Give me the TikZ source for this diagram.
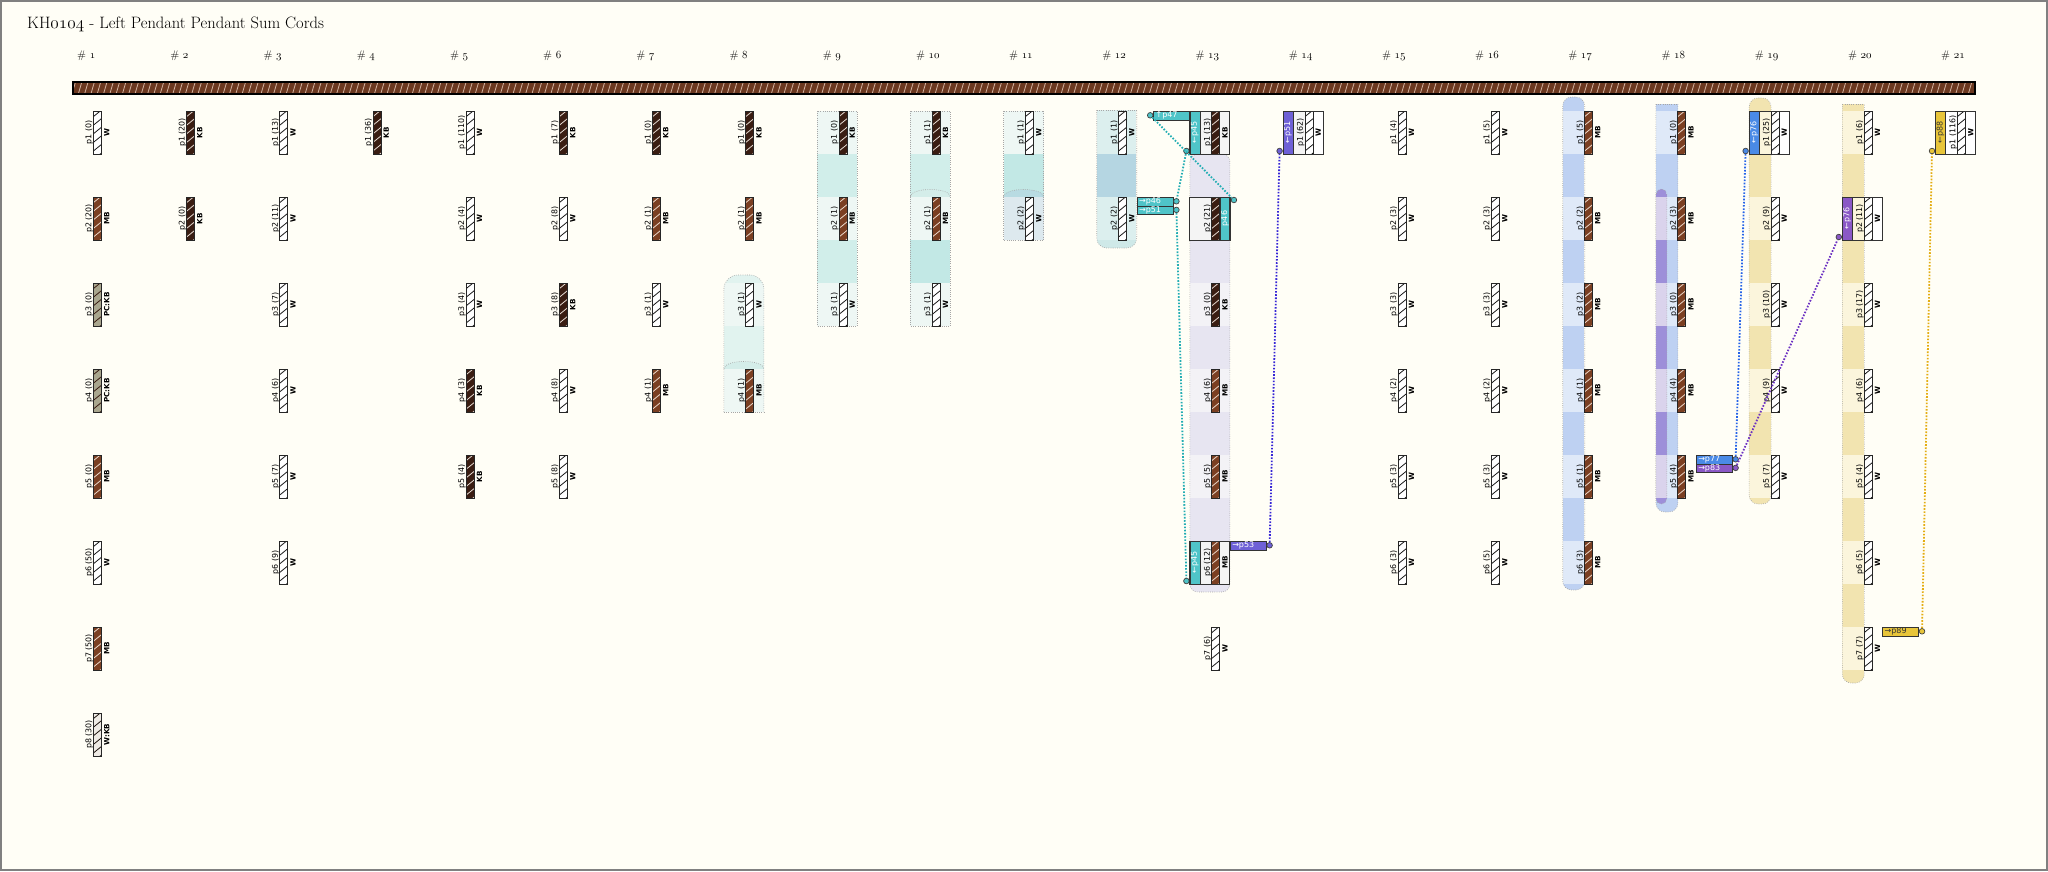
\documentclass[tikz,border=0pt]{standalone}
\usepackage{fontspec}
\newfontfamily\dv{DejaVu Sans}
\newcommand\osn[1]{{\usefont{OML}{lmm}{m}{it}#1}}
\definecolor{bgc}{HTML}{FFFEF6}
\definecolor{framec}{HTML}{808080}
\definecolor{mcf}{HTML}{6B3820}
\definecolor{mch}{HTML}{D2B2A0}
\definecolor{cfW}{HTML}{FFFFFF}
\definecolor{chW}{HTML}{1A1A1A}
\definecolor{cfKB}{HTML}{3A1D12}
\definecolor{chKB}{HTML}{E4DAD2}
\definecolor{cfMB}{HTML}{7B3F22}
\definecolor{chMB}{HTML}{EBD8CA}
\definecolor{cfPCKB}{HTML}{A9A68E}
\definecolor{chPCKB}{HTML}{3A1D12}
\definecolor{cfWKB}{HTML}{EEEAE4}
\definecolor{chWKB}{HTML}{1E140E}
\definecolor{tL}{HTML}{EEF7F4}
\definecolor{tA}{HTML}{E1F3EF}
\definecolor{tB}{HTML}{D4EDE9}
\definecolor{tC}{HTML}{D1EEEA}
\definecolor{tD}{HTML}{C2E8E5}
\definecolor{tE}{HTML}{B5D6E2}
\definecolor{tF}{HTML}{DDE9EE}
\definecolor{tG}{HTML}{B8DBE2}
\definecolor{tH}{HTML}{DCEFEE}
\definecolor{tI}{HTML}{CFE9E8}
\definecolor{lavL}{HTML}{F3F2F6}
\definecolor{lavG}{HTML}{E7E5F1}
\definecolor{bL}{HTML}{DFE9F8}
\definecolor{bG}{HTML}{BED1F2}
\definecolor{pL}{HTML}{DAD3EC}
\definecolor{pG}{HTML}{9D8FD9}
\definecolor{yL}{HTML}{FBF5DC}
\definecolor{yG}{HTML}{F2E4B0}
\definecolor{boxg}{HTML}{F4F4F4}
\definecolor{cteal}{HTML}{4FC4C8}
\definecolor{cindigo}{HTML}{6E60D6}
\definecolor{cblue}{HTML}{4A8AE6}
\definecolor{cpurple}{HTML}{8A58C6}
\definecolor{cyellow}{HTML}{E8C53A}
\definecolor{lteal}{HTML}{22ADB3}
\definecolor{lindigo}{HTML}{3524D6}
\definecolor{lblue}{HTML}{2563E8}
\definecolor{lpurple}{HTML}{6B2FC2}
\definecolor{lyellow}{HTML}{E4AD12}
\tikzset{
  lbl/.style={rotate=90, inner sep=0pt, font=\dv\fontsize{7.9}{8}\selectfont, text=black},
  typ/.style={rotate=90, inner sep=0pt, font=\dv\bfseries\fontsize{7.2}{8}\selectfont, text=black},
  hdr/.style={inner sep=0pt, anchor=base west, font=\fontsize{11}{12}\selectfont, text=black},
  tagbox/.style={draw=black!80, line width=0.7pt, minimum width=36pt, minimum height=8.6pt, inner ysep=0pt, inner xsep=2pt, text width=32pt, align=left, anchor=north west, font=\dv\fontsize{8}{8}\selectfont},
  stripbox/.style={draw=black!80, line width=0.7pt, rotate=90, minimum width=43pt, minimum height=10pt, inner sep=0pt, font=\dv\fontsize{8}{8}\selectfont},
  cdot/.style={circle, draw=black!75, line width=0.7pt, minimum size=5.6pt, inner sep=0pt},
  link/.style={line width=1.8pt, dash pattern=on 1.6pt off 1.6pt},
  bandedge/.style={draw=black!35, line width=0.6pt, dash pattern=on 0.8pt off 1.4pt},
}
% col, row, count, type key, type text
\newcommand\Pcord[5]{%
  \pgfmathsetmacro\cx{97.5+93.2*(#1-1)}%
  \pgfmathsetmacro\cy{111+86*(#2-1)}%
  \begin{scope}
    \clip (\cx-4,\cy) rectangle (\cx+4,\cy+43);
    \fill[cf#4] (\cx-4,\cy) rectangle (\cx+4,\cy+43);
    \foreach \k in {0,...,5}{\draw[ch#4, line width=0.8pt] (\cx-4,\cy+8.6*\k+5.5) -- (\cx+4,\cy+8.6*\k-1);}
  \end{scope}
  \draw[black!85, line width=0.9pt] (\cx-4,\cy) rectangle (\cx+4,\cy+43);
  \node[lbl, anchor=south] (c#1p#2) at (\cx-4.3,\cy+21.5) {p#2 (#3)};
  \node[typ, anchor=north] (c#1t#2) at (\cx+6.3,\cy+21.5) {#5};
}
\newcommand\Pbox[4]{%
  \pgfmathsetmacro\cx{97.5+93.2*(#1-1)}%
  \pgfmathsetmacro\cy{111+86*(#2-1)}%
  \fill[#3] (\cx-26,\cy) rectangle (\cx-4,\cy+43);
  \fill[#4] (\cx-4,\cy) rectangle (\cx+14,\cy+43);
}
\newcommand\Pedge[2]{%
  \pgfmathsetmacro\cx{97.5+93.2*(#1-1)}%
  \pgfmathsetmacro\cy{111+86*(#2-1)}%
  \draw[black!80, line width=0.9pt] (\cx-26,\cy) rectangle (\cx+14,\cy+43);
}
% col,row,fill,textcolor,text,name
\newcommand\Plstrip[6]{%
  \pgfmathsetmacro\cx{97.5+93.2*(#1-1)}%
  \pgfmathsetmacro\cy{111+86*(#2-1)}%
  \node[stripbox, fill=#3, text=#4] (#6) at (\cx-21,\cy+21.5) {#5};
  \node[cdot, fill=#3] (#6d) at (\cx-29.5,\cy+40) {};
}
\newcommand\Prstrip[6]{%
  \pgfmathsetmacro\cx{97.5+93.2*(#1-1)}%
  \pgfmathsetmacro\cy{111+86*(#2-1)}%
  \node[stripbox, fill=#3, text=#4] (#6) at (\cx+9,\cy+21.5) {#5};
  \node[cdot, fill=#3] (#6d) at (\cx+18,\cy+3) {};
}
% col,row,index,fill,textcolor,text,name
\newcommand\Ptag[7]{%
  \pgfmathsetmacro\cx{97.5+93.2*(#1-1)}%
  \pgfmathsetmacro\cy{111+86*(#2-1)}%
  \node[tagbox, fill=#4, text=#5] (#7) at (\cx+14,\cy+8.6*#3) {#6};
  \node[cdot, fill=#4] (#7d) at (\cx+53.7,\cy+8.6*#3+4.3) {};
}
\newcommand\Prows[5]{\foreach \r in {#3,...,#4}{\fill[#5] (#1,{111+86*(\r-1)}) rectangle (#2,{154+86*(\r-1)});}}
\begin{document}
\begin{tikzpicture}[x=1pt,y=-1pt]
\useasboundingbox (0,0) rectangle (2048,871);
\fill[bgc] (0,0) rectangle (2048,871);
\draw[framec, line width=1.5pt] (1,1) rectangle (2047,870);

\node[anchor=base west, inner sep=0pt, font=\fontsize{16.5}{19}\selectfont, text=black] (title) at (27,28) {KH\osn{0104} - Left Pendant Pendant Sum Cords};
\foreach \c in {1,...,21}{\node[hdr] (h\c) at ({97.5+93.2*(\c-1)-20.5},58) {\# \osn{\c}};}

% main cord
\begin{scope}
  \clip (73,82) rectangle (1975,94);
  \fill[mcf] (73,82) rectangle (1975,94);
  \foreach \i in {0,...,302}{\draw[mch, line width=0.8pt] ({72+6.3*\i},94) -- ({75.5+6.3*\i},82);}
\end{scope}
\draw[black, line width=1.3pt] (73,82) rectangle (1975,94);

% ---------- bands ----------
% #8
\begin{scope}
  \clip[rounded corners=14pt] (723.9,412) -- (723.9,275) -- (763.9,275) -- (763.9,412);
  \fill[tA] (723.9,270) rectangle (763.9,412);
  \Prows{723.9}{763.9}{3}{4}{tL}
  \fill[tB] (723.9,369) .. controls (723.9,359) and (763.9,359) .. (763.9,369) -- cycle;
\end{scope}
\draw[bandedge, rounded corners=14pt] (723.9,412) -- (723.9,275) -- (763.9,275) -- (763.9,412);
\draw[bandedge] (723.9,412) -- (763.9,412);
\draw[bandedge] (723.9,369) .. controls (723.9,359) and (763.9,359) .. (763.9,369);
% #9
\fill[tC] (817.1,111) rectangle (857.1,326);
\Prows{817.1}{857.1}{1}{3}{tL}
\draw[bandedge] (817.1,111) rectangle (857.1,326);
% #10
\fill[tC] (910.3,111) rectangle (950.3,240);
\fill[tD] (910.3,240) rectangle (950.3,326);
\Prows{910.3}{950.3}{1}{3}{tL}
\fill[tB] (910.3,197) .. controls (910.3,187) and (950.3,187) .. (950.3,197) -- cycle;
\draw[bandedge] (910.3,197) .. controls (910.3,187) and (950.3,187) .. (950.3,197);
\draw[bandedge] (910.3,111) rectangle (950.3,326);
% #11
\fill[tD] (1003.5,111) rectangle (1043.5,240);
\fill[tL] (1003.5,111) rectangle (1043.5,154);
\fill[tF] (1003.5,197) rectangle (1043.5,240);
\fill[tG] (1003.5,197) .. controls (1003.5,187) and (1043.5,187) .. (1043.5,197) -- cycle;
\draw[bandedge] (1003.5,197) .. controls (1003.5,187) and (1043.5,187) .. (1043.5,197);
\draw[bandedge] (1003.5,111) rectangle (1043.5,240);
% #12
\begin{scope}
  \clip[rounded corners=10pt] (1096.7,110) -- (1096.7,248) -- (1136.7,248) -- (1136.7,110);
  \fill[tI] (1096.7,110) rectangle (1136.7,248);
  \fill[tH] (1096.7,110) rectangle (1136.7,154);
  \fill[tE] (1096.7,154) rectangle (1136.7,197);
  \fill[tH] (1096.7,197) rectangle (1136.7,240);
\end{scope}
\draw[bandedge, rounded corners=10pt] (1096.7,110) -- (1096.7,248) -- (1136.7,248) -- (1136.7,110);
\draw[bandedge] (1096.7,110) -- (1136.7,110);
% #13
\begin{scope}
  \clip[rounded corners=8pt] (1189.9,154) rectangle (1229.9,592);
  \fill[lavG] (1189.9,150) rectangle (1229.9,592);
  \Prows{1189.9}{1229.9}{3}{6}{lavL}
\end{scope}
\draw[bandedge, rounded corners=8pt] (1189.9,154) rectangle (1229.9,592);
% #17
\begin{scope}
  \clip[rounded corners=9pt] (1562.7,97) rectangle (1584.7,590);
  \fill[bG] (1562.7,97) rectangle (1584.7,590);
  \Prows{1562.7}{1584.7}{1}{6}{bL}
\end{scope}
\draw[bandedge, rounded corners=9pt] (1562.7,97) rectangle (1584.7,590);
% #18 blue
\begin{scope}
  \clip[rounded corners=9pt] (1655.9,104) -- (1655.9,512) -- (1677.9,512) -- (1677.9,104);
  \fill[bG] (1655.9,104) rectangle (1677.9,512);
  \Prows{1655.9}{1677.9}{1}{5}{bL}
\end{scope}
\draw[bandedge, rounded corners=9pt] (1655.9,104) -- (1655.9,512) -- (1677.9,512) -- (1677.9,104);
\draw[bandedge] (1655.9,104) -- (1677.9,104);
% #18 purple
\begin{scope}
  \clip[rounded corners=5.5pt] (1655.9,189) rectangle (1666.9,504);
  \fill[pG] (1655.9,189) rectangle (1666.9,504);
  \Prows{1655.9}{1666.9}{2}{5}{pL}
\end{scope}
\draw[bandedge, rounded corners=5.5pt] (1655.9,189) rectangle (1666.9,504);
% #19
\begin{scope}
  \clip[rounded corners=9pt] (1749.1,98) rectangle (1771.1,504);
  \fill[yG] (1749.1,98) rectangle (1771.1,504);
  \Prows{1749.1}{1771.1}{1}{5}{yL}
\end{scope}
\draw[bandedge, rounded corners=9pt] (1749.1,98) rectangle (1771.1,504);
% #20
\begin{scope}
  \clip[rounded corners=9pt] (1842.3,104) -- (1842.3,683) -- (1864.3,683) -- (1864.3,104);
  \fill[yG] (1842.3,104) rectangle (1864.3,683);
  \Prows{1842.3}{1864.3}{1}{7}{yL}
\end{scope}
\draw[bandedge, rounded corners=9pt] (1842.3,104) -- (1842.3,683) -- (1864.3,683) -- (1864.3,104);
\draw[bandedge] (1842.3,104) -- (1864.3,104);

% ---------- boxes ----------
\Pbox{13}{1}{boxg}{boxg}
\Pbox{13}{2}{boxg}{boxg}
\Pbox{13}{6}{boxg}{boxg}
\Pbox{14}{1}{boxg}{white}
\Pbox{19}{1}{yL}{white}
\Pbox{20}{2}{yL}{white}
\Pbox{21}{1}{white}{white}
\Plstrip{13}{1}{cteal}{white}{←p45}{s13a}
\Prstrip{13}{2}{cteal}{white}{p46}{s13b}
\Plstrip{13}{6}{cteal}{white}{←p45}{s13f}
\Plstrip{14}{1}{cindigo}{white}{←p51}{s14a}
\Plstrip{19}{1}{cblue}{white}{←p76}{s19a}
\Plstrip{20}{2}{cpurple}{white}{←p76}{s20b}
\Plstrip{21}{1}{cyellow}{black!80}{←p88}{s21a}

% ---------- cords ----------
\Pcord{1}{1}{0}{W}{W}
\Pcord{1}{2}{20}{MB}{MB}
\Pcord{1}{3}{0}{PCKB}{PC:KB}
\Pcord{1}{4}{0}{PCKB}{PC:KB}
\Pcord{1}{5}{0}{MB}{MB}
\Pcord{1}{6}{50}{W}{W}
\Pcord{1}{7}{50}{MB}{MB}
\Pcord{1}{8}{30}{WKB}{W:KB}
\Pcord{2}{1}{20}{KB}{KB}
\Pcord{2}{2}{0}{KB}{KB}
\Pcord{3}{1}{13}{W}{W}
\Pcord{3}{2}{11}{W}{W}
\Pcord{3}{3}{7}{W}{W}
\Pcord{3}{4}{6}{W}{W}
\Pcord{3}{5}{7}{W}{W}
\Pcord{3}{6}{9}{W}{W}
\Pcord{4}{1}{36}{KB}{KB}
\Pcord{5}{1}{110}{W}{W}
\Pcord{5}{2}{4}{W}{W}
\Pcord{5}{3}{4}{W}{W}
\Pcord{5}{4}{3}{KB}{KB}
\Pcord{5}{5}{4}{KB}{KB}
\Pcord{6}{1}{7}{KB}{KB}
\Pcord{6}{2}{8}{W}{W}
\Pcord{6}{3}{8}{KB}{KB}
\Pcord{6}{4}{8}{W}{W}
\Pcord{6}{5}{8}{W}{W}
\Pcord{7}{1}{0}{KB}{KB}
\Pcord{7}{2}{1}{MB}{MB}
\Pcord{7}{3}{1}{W}{W}
\Pcord{7}{4}{1}{MB}{MB}
\Pcord{8}{1}{0}{KB}{KB}
\Pcord{8}{2}{1}{MB}{MB}
\Pcord{8}{3}{1}{W}{W}
\Pcord{8}{4}{1}{MB}{MB}
\Pcord{9}{1}{0}{KB}{KB}
\Pcord{9}{2}{1}{MB}{MB}
\Pcord{9}{3}{1}{W}{W}
\Pcord{10}{1}{1}{KB}{KB}
\Pcord{10}{2}{1}{MB}{MB}
\Pcord{10}{3}{1}{W}{W}
\Pcord{11}{1}{1}{W}{W}
\Pcord{11}{2}{2}{W}{W}
\Pcord{12}{1}{1}{W}{W}
\Pcord{12}{2}{2}{W}{W}
\Pcord{13}{1}{13}{KB}{KB}
\Pcord{13}{2}{21}{KB}{}
\Pcord{13}{3}{0}{KB}{KB}
\Pcord{13}{4}{6}{MB}{MB}
\Pcord{13}{5}{5}{MB}{MB}
\Pcord{13}{6}{12}{MB}{MB}
\Pcord{13}{7}{6}{W}{W}
\Pcord{14}{1}{62}{W}{W}
\Pcord{15}{1}{4}{W}{W}
\Pcord{15}{2}{3}{W}{W}
\Pcord{15}{3}{3}{W}{W}
\Pcord{15}{4}{2}{W}{W}
\Pcord{15}{5}{3}{W}{W}
\Pcord{15}{6}{3}{W}{W}
\Pcord{16}{1}{5}{W}{W}
\Pcord{16}{2}{3}{W}{W}
\Pcord{16}{3}{3}{W}{W}
\Pcord{16}{4}{2}{W}{W}
\Pcord{16}{5}{3}{W}{W}
\Pcord{16}{6}{5}{W}{W}
\Pcord{17}{1}{5}{MB}{MB}
\Pcord{17}{2}{2}{MB}{MB}
\Pcord{17}{3}{2}{MB}{MB}
\Pcord{17}{4}{1}{MB}{MB}
\Pcord{17}{5}{1}{MB}{MB}
\Pcord{17}{6}{3}{MB}{MB}
\Pcord{18}{1}{0}{MB}{MB}
\Pcord{18}{2}{3}{MB}{MB}
\Pcord{18}{3}{0}{MB}{MB}
\Pcord{18}{4}{4}{MB}{MB}
\Pcord{18}{5}{4}{MB}{MB}
\Pcord{19}{1}{25}{W}{W}
\Pcord{19}{2}{9}{W}{W}
\Pcord{19}{3}{10}{W}{W}
\Pcord{19}{4}{9}{W}{W}
\Pcord{19}{5}{7}{W}{W}
\Pcord{20}{1}{6}{W}{W}
\Pcord{20}{2}{11}{W}{W}
\Pcord{20}{3}{17}{W}{W}
\Pcord{20}{4}{6}{W}{W}
\Pcord{20}{5}{4}{W}{W}
\Pcord{20}{6}{5}{W}{W}
\Pcord{20}{7}{7}{W}{W}
\Pcord{21}{1}{116}{W}{W}

\Pedge{13}{1}
\Pedge{13}{2}
\Pedge{13}{6}
\Pedge{14}{1}
\Pedge{19}{1}
\Pedge{20}{2}
\Pedge{21}{1}

% ---------- tags ----------
\node[tagbox, fill=cteal, text=white, anchor=north east] (tP47) at (1189.9,111) {↑p47};
\node[cdot, fill=cteal] (tP47d) at (1150.2,115.3) {};
\Ptag{12}{2}{0}{cteal}{white}{→p46}{t12a}
\Ptag{12}{2}{1}{cteal}{white}{→p51}{t12b}
\Ptag{13}{6}{0}{cindigo}{white}{→p53}{t13f}
\Ptag{18}{5}{0}{cblue}{white}{→p77}{t18a}
\Ptag{18}{5}{1}{cpurple}{white}{→p83}{t18b}
\Ptag{20}{7}{0}{cyellow}{black!80}{→p89}{t20g}

% ---------- links ----------
\draw[link, lteal] (tP47d) -- (s13bd);
\draw[link, lteal] (s13ad) -- (t12ad);
\draw[link, lteal] (t12bd) -- (s13fd);
\draw[link, lindigo] (t13fd) -- (s14ad);
\draw[link, lblue] (t18ad) -- (s19ad);
\draw[link, lpurple] (t18bd) -- (s20bd);
\draw[link, lyellow] (t20gd) -- (s21ad);
\end{tikzpicture}
\end{document}
